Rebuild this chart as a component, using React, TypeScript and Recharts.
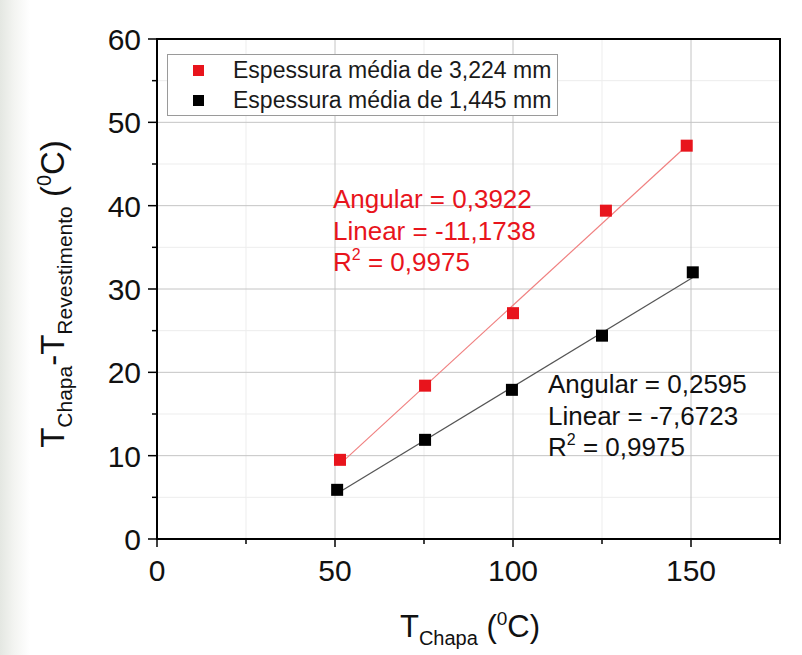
import React from "react"
import {
  ScatterChart,
  Scatter,
  XAxis,
  YAxis,
  CartesianGrid,
  ReferenceArea,
  Legend,
  Customized,
} from "recharts"

// measured points, thick coating (3,224 mm)
const thickX = [51.4, 75.3, 100.0, 126.1, 148.8]
const thickY = [9.5, 18.4, 27.1, 39.4, 47.2]

// measured points, thin coating (1,445 mm)
const thinX = [50.6, 75.3, 99.7, 125.0, 150.5]
const thinY = [5.9, 11.9, 17.9, 24.4, 32.0]

// linear fits (angular, linear, R²)
const thickFit = { slope: 0.3922, intercept: -11.1738, r2: "0,9975" }
const thinFit = { slope: 0.2595, intercept: -7.6723, r2: "0,9975" }

const legendLabels = ["Espessura média de 3,224 mm", "Espessura média de 1,445 mm"]
const xTicks = [0, 25, 50, 75, 100, 125, 150, 175]
const yTicks = [0, 5, 10, 15, 20, 25, 30, 35, 40, 45, 50, 55, 60]

const RED = "#e8141c"
const FONT = "'Liberation Sans', Arial, sans-serif"

const toPoints = (xs: number[], ys: number[]) => xs.map((x, i) => ({ x, y: ys[i] }))
const fitLine = (xs: number[], fit: { slope: number; intercept: number }) => {
  const lo = Math.min(...xs)
  const hi = Math.max(...xs)
  return [lo, hi].map((x) => ({ x, y: fit.slope * x + fit.intercept }))
}

const thickData = toPoints(thickX, thickY)
const thinData = toPoints(thinX, thinY)
const thickLine = fitLine(thickX, thickFit)
const thinLine = fitLine(thinX, thinFit)

const square = (color: string) => (props: any) => {
  const { cx, cy } = props
  return <rect x={cx - 6} y={cy - 6} width={12} height={12} fill={color} />
}
const noDot = () => <g />

const XTick = (props: any) => {
  const { x, y, payload } = props
  const major = payload.value % 50 === 0
  return (
    <g>
      <line x1={x} x2={x} y1={y} y2={y + (major ? 8 : 5)} stroke="#000" strokeWidth={1.5} />
      {major && (
        <text x={x} y={y + 42} textAnchor="middle" fontSize={30} fontFamily={FONT} fill="#111">
          {payload.value}
        </text>
      )}
    </g>
  )
}

const YTick = (props: any) => {
  const { x, y, payload } = props
  const major = payload.value % 10 === 0
  return (
    <g>
      <line x1={x} x2={x - (major ? 9 : 5)} y1={y} y2={y} stroke="#000" strokeWidth={1.5} />
      {major && (
        <text x={x - 16} y={y + 11} textAnchor="end" fontSize={30} fontFamily={FONT} fill="#111">
          {payload.value}
        </text>
      )}
    </g>
  )
}

const renderLegend = () => (
  <div
    style={{
      border: "1px solid #9a9a9a",
      background: "#fff",
      width: 389,
      height: 60,
      boxSizing: "content-box",
      fontFamily: FONT,
      fontSize: 23,
      color: "#1a1a1a",
    }}
  >
    {legendLabels.map((label, i) => (
      <div key={label} style={{ display: "flex", alignItems: "center", height: 30 }}>
        <span
          style={{
            display: "inline-block",
            width: 11,
            height: 11,
            marginLeft: 25,
            marginRight: 29,
            background: i === 0 ? RED : "#000",
          }}
        />
        <span>{label}</span>
      </div>
    ))}
  </div>
)

const FitNote = ({ x, y, fit, color }: { x: number; y: number; fit: any; color: string }) => {
  const fmt = (v: number) => v.toString().replace(".", ",")
  return (
    <g fontFamily={FONT} fontSize={26} fill={color}>
      <text x={x} y={y}>Angular = {fmt(fit.slope)}</text>
      <text x={x} y={y + 32}>Linear = {fmt(fit.intercept)}</text>
      <text x={x} y={y + 63}>
        R<tspan fontSize={16} dy={-11}>2</tspan>
        <tspan dy={11}> = {fit.r2}</tspan>
      </text>
    </g>
  )
}

// axis titles with sub/superscripts, plus the fit annotations
const Titles = () => (
  <g fontFamily={FONT} fill="#111">
    <text x={470} y={637} textAnchor="middle">
      <tspan fontSize={31}>T</tspan>
      <tspan fontSize={20} dy={8}>Chapa</tspan>
      <tspan fontSize={31} dy={-8}> (</tspan>
      <tspan fontSize={19} dy={-12}>0</tspan>
      <tspan fontSize={31} dy={12}>C)</tspan>
    </text>
    <text transform="translate(64 294) rotate(-90)" textAnchor="middle">
      <tspan fontSize={33}>T</tspan>
      <tspan fontSize={21} dy={8}>Chapa</tspan>
      <tspan fontSize={33} dy={-8}>-T</tspan>
      <tspan fontSize={21} dy={8}>Revestimento</tspan>
      <tspan fontSize={33} dy={-8}> (</tspan>
      <tspan fontSize={20} dy={-13}>0</tspan>
      <tspan fontSize={33} dy={13}>C)</tspan>
    </text>
    <FitNote x={333} y={208} fit={thickFit} color={RED} />
    <FitNote x={548} y={393} fit={thinFit} color="#111" />
  </g>
)

export default function App() {
  return (
    <div
      style={{
        position: "absolute",
        left: 0,
        top: 0,
        width: 802,
        height: 655,
        background: "linear-gradient(to right, #e4e7e2 0px, #f3f4f1 14px, #ffffff 30px)",
      }}
    >
      <ScatterChart width={802} height={655} margin={{ top: 39, right: 22, bottom: 56, left: 97 }}>
        <CartesianGrid
          stroke="#ededed"
          strokeWidth={1}
          verticalValues={[25, 75, 125]}
          horizontalValues={[5, 15, 25, 35, 45, 55]}
        />
        <CartesianGrid
          stroke="#c4c4c4"
          strokeWidth={1}
          verticalValues={[50, 100, 150]}
          horizontalValues={[10, 20, 30, 40, 50]}
        />
        <XAxis
          type="number"
          dataKey="x"
          domain={[0, 175]}
          ticks={xTicks}
          interval={0}
          height={60}
          axisLine={false}
          tickLine={false}
          tickSize={0}
          tickMargin={0}
          tick={<XTick />}
        />
        <YAxis
          type="number"
          dataKey="y"
          domain={[0, 60]}
          ticks={yTicks}
          interval={0}
          width={60}
          axisLine={false}
          tickLine={false}
          tickSize={0}
          tickMargin={0}
          tick={<YTick />}
        />
        <ReferenceArea x1={0} x2={175} y1={0} y2={60} fill="none" stroke="#000" strokeWidth={2} />
        <Scatter
          data={thickLine}
          line={{ stroke: "#f08080", strokeWidth: 1.2 }}
          shape={noDot}
          legendType="none"
          isAnimationActive={false}
        />
        <Scatter
          data={thinLine}
          line={{ stroke: "#555", strokeWidth: 1.2 }}
          shape={noDot}
          legendType="none"
          isAnimationActive={false}
        />
        <Scatter name={legendLabels[0]} data={thickData} fill={RED} shape={square(RED)} isAnimationActive={false} />
        <Scatter name={legendLabels[1]} data={thinData} fill="#000" shape={square("#000")} isAnimationActive={false} />
        <Legend
          layout="horizontal"
          verticalAlign="middle"
          content={renderLegend}
          wrapperStyle={{ left: 167, top: 54, width: 391, height: 62 }}
        />
        <Customized component={Titles} />
      </ScatterChart>
    </div>
  )
}
